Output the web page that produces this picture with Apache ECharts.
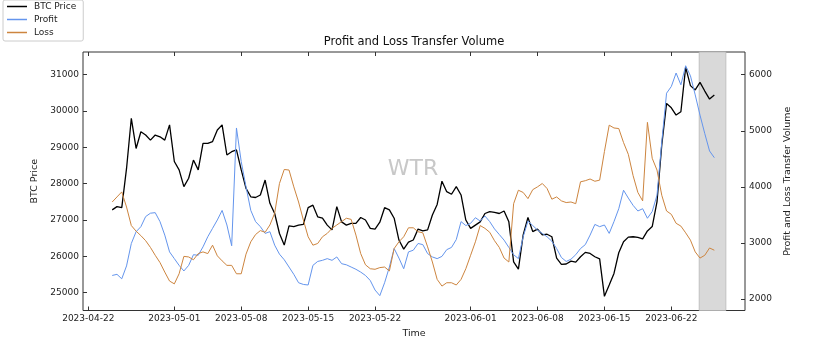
<!DOCTYPE html>
<html><head><meta charset="utf-8">
<script src="https://cdn.jsdelivr.net/npm/echarts@6/dist/echarts.min.js"></script>
<style>html,body{margin:0;padding:0;background:#fff}#c{width:828px;height:345px}</style>
</head><body><div id="c"></div>
<script>
const times = [
"2023-04-24 12:00",
"2023-04-25 00:00","2023-04-25 12:00","2023-04-26 00:00","2023-04-26 12:00","2023-04-27 00:00","2023-04-27 12:00",
"2023-04-28 00:00","2023-04-28 12:00","2023-04-29 00:00","2023-04-29 12:00","2023-04-30 00:00","2023-04-30 12:00",
"2023-05-01 00:00","2023-05-01 12:00","2023-05-02 00:00","2023-05-02 12:00","2023-05-03 00:00","2023-05-03 12:00",
"2023-05-04 00:00","2023-05-04 12:00","2023-05-05 00:00","2023-05-05 12:00","2023-05-06 00:00","2023-05-06 12:00",
"2023-05-07 00:00","2023-05-07 12:00","2023-05-08 00:00","2023-05-08 12:00","2023-05-09 00:00","2023-05-09 12:00",
"2023-05-10 00:00","2023-05-10 12:00","2023-05-11 00:00","2023-05-11 12:00","2023-05-12 00:00","2023-05-12 12:00",
"2023-05-13 00:00","2023-05-13 12:00","2023-05-14 00:00","2023-05-14 12:00","2023-05-15 00:00","2023-05-15 12:00",
"2023-05-16 00:00","2023-05-16 12:00","2023-05-17 00:00","2023-05-17 12:00","2023-05-18 00:00","2023-05-18 12:00",
"2023-05-19 00:00","2023-05-19 12:00","2023-05-20 00:00","2023-05-20 12:00","2023-05-21 00:00","2023-05-21 12:00",
"2023-05-22 00:00","2023-05-22 12:00","2023-05-23 00:00","2023-05-23 12:00","2023-05-24 00:00","2023-05-24 12:00",
"2023-05-25 00:00","2023-05-25 12:00","2023-05-26 00:00","2023-05-26 12:00","2023-05-27 00:00","2023-05-27 12:00",
"2023-05-28 00:00","2023-05-28 12:00","2023-05-29 00:00","2023-05-29 12:00","2023-05-30 00:00","2023-05-30 12:00",
"2023-05-31 00:00","2023-05-31 12:00",
"2023-06-01 00:00","2023-06-01 12:00","2023-06-02 00:00","2023-06-02 12:00","2023-06-03 00:00","2023-06-03 12:00",
"2023-06-04 00:00","2023-06-04 12:00","2023-06-05 00:00","2023-06-05 12:00","2023-06-06 00:00","2023-06-06 12:00",
"2023-06-07 00:00","2023-06-07 12:00","2023-06-08 00:00","2023-06-08 12:00","2023-06-09 00:00","2023-06-09 12:00",
"2023-06-10 00:00","2023-06-10 12:00","2023-06-11 00:00","2023-06-11 12:00","2023-06-12 00:00","2023-06-12 12:00",
"2023-06-13 00:00","2023-06-13 12:00","2023-06-14 00:00","2023-06-14 12:00","2023-06-15 00:00","2023-06-15 12:00",
"2023-06-16 00:00","2023-06-16 12:00","2023-06-17 00:00","2023-06-17 12:00","2023-06-18 00:00","2023-06-18 12:00",
"2023-06-19 00:00","2023-06-19 12:00","2023-06-20 00:00","2023-06-20 12:00","2023-06-21 00:00","2023-06-21 12:00",
"2023-06-22 00:00","2023-06-22 12:00","2023-06-23 00:00","2023-06-23 12:00","2023-06-24 00:00","2023-06-24 12:00",
"2023-06-25 00:00","2023-06-25 12:00","2023-06-26 00:00","2023-06-26 12:00"
];
const btcPrice = [
27280,27370,27340,28420,29800,28970,29430,29340,29200,29340,
29290,29200,29620,28610,28380,27920,28150,28650,28380,29110,
29110,29160,29480,29620,28790,28880,28930,28380,27870,27640,
27620,27690,28100,27460,27180,26630,26310,26840,26820,26860,
26880,27340,27410,27090,27050,26860,26730,27370,26950,26860,
26910,26910,27070,27000,26770,26750,26940,27340,27280,27050,
26450,26200,26390,26450,26750,26700,26730,27140,27430,28070,
27780,27710,27920,27690,27000,26770,26860,26950,27180,27230,
27210,27180,27250,26950,25850,25650,26590,27070,26680,26750,
26590,26610,26540,25950,25780,25790,25870,25840,25990,26110,
26080,25990,25930,24900,25210,25530,26100,26400,26530,26540,
26520,26480,26700,26820,27500,29070,30210,30090,29890,29980,
31200,30700,30580,30790,30550,30330,30440
];
const profit = [
2420,2440,2360,2590,2990,3200,3290,3470,3530,3540,
3380,3140,2840,2720,2600,2500,2600,2790,2780,2930,
3110,3260,3410,3580,3320,2950,5050,4450,4000,3580,
3380,3290,3170,3200,2960,2800,2700,2570,2440,2290,
2260,2250,2600,2670,2690,2720,2690,2750,2630,2610,
2570,2530,2480,2420,2330,2160,2060,2290,2570,2900,
2730,2540,2840,2870,2990,2970,2810,2750,2720,2760,
2880,2920,3060,3380,3310,3350,3450,3390,3480,3380,
3250,3150,3050,2920,2790,2720,3110,3390,3310,3230,
3170,3110,3030,2900,2740,2670,2710,2790,2900,2970,
3140,3330,3290,3320,3170,3380,3610,3940,3800,3670,
3570,3610,3440,3560,3850,4800,5670,5790,6030,5820,
6160,5980,5640,5280,4950,4640,4520
];
const loss = [
3730,3820,3910,3640,3310,3210,3130,3040,2920,2780,
2650,2480,2320,2270,2450,2760,2750,2700,2810,2840,
2810,2960,2770,2680,2600,2600,2450,2450,2800,3020,
3150,3220,3190,3320,3530,4060,4310,4300,4000,3730,
3410,3110,2960,2990,3110,3170,3260,3320,3380,3440,
3420,3140,2810,2610,2540,2530,2560,2570,2500,2900,
3020,3110,3270,3270,3200,3180,2930,2660,2350,2230,
2290,2290,2250,2350,2540,2780,3020,3310,3260,3190,
3040,2920,2730,2660,3700,3940,3900,3790,3950,4000,
4060,3970,3780,3820,3750,3720,3730,3700,4090,4110,
4140,4100,4120,4630,5100,5050,5040,4790,4580,4200,
3900,3750,5150,4510,4300,3850,3570,3510,3350,3300,
3180,3050,2840,2730,2780,2910,2870
];
const xTickLabels = ['2023-04-22','2023-05-01','2023-05-08','2023-05-15','2023-05-22','2023-06-01','2023-06-08','2023-06-15','2023-06-22'];
const leftTicks = [25000,26000,27000,28000,29000,30000,31000];
const rightTicks = [2000,3000,4000,5000,6000];
const shadeRange = ['2023-06-24 22:00','2023-06-27 17:00'];
const xRange = ['2023-04-21 10:40','2023-06-29 17:00'];

function ts(s){
  const [d,t] = s.split(' ');
  const [y,m,dd] = d.split('-').map(Number);
  let hh=0, mm=0;
  if (t) { [hh,mm] = t.split(':').map(Number); }
  return new Date(y, m-1, dd, hh, mm).getTime();
}
function fmtDate(v){
  const d = new Date(v); const p = n => String(n).padStart(2,'0');
  return d.getFullYear()+'-'+p(d.getMonth()+1)+'-'+p(d.getDate());
}
const plain = v => String(Math.round(v));
const FONT = 'DejaVu Sans';
const xTickValues = xTickLabels.map(ts);
const tsTimes = times.map(ts);
const xMin = ts(xRange[0]), xMax = ts(xRange[1]);
const axisCol = '#333', labCol = '#222';

const chart = echarts.init(document.getElementById('c'), null, {renderer:'canvas'});
chart.setOption({
  animation:false,
  backgroundColor:'#fff',
  textStyle:{fontFamily:FONT},
  title:{text:'Profit and Loss Transfer Volume', left:'center', top:36, padding:0,
    textStyle:{fontSize:11.5, fontWeight:'normal', color:'#111', fontFamily:FONT}},
  legend:{orient:'vertical', left:3, top:0, padding:[2,7,4,4], itemGap:4, itemWidth:20, itemHeight:1.5,
    icon:'rect', borderColor:'#cccccc', borderWidth:1, borderRadius:2, backgroundColor:'#fff',
    textStyle:{fontSize:9, color:labCol, fontFamily:FONT, padding:[0,0,0,2]},
    data:['BTC Price','Profit','Loss']},
  grid:{left:83, right:83, top:52, bottom:34.5, show:true, borderColor:axisCol, borderWidth:1, backgroundColor:'transparent'},
  graphic:[{type:'text', x:413, y:169.5, z:1, silent:true,
    style:{text:'WTR', fontSize:22, fontFamily:FONT, fill:'#c8c8c8', textAlign:'center', textVerticalAlign:'middle'}}],
  xAxis:[
    {type:'value', min:xMin, max:xMax, name:'Time', nameLocation:'middle', nameGap:17,
     nameTextStyle:{fontSize:9.5, color:labCol, fontFamily:FONT},
     axisLine:{show:false},
     axisTick:{show:true, inside:true, length:4, customValues:xTickValues, lineStyle:{color:axisCol}},
     axisLabel:{customValues:xTickValues, formatter:fmtDate, fontSize:9, color:labCol, margin:4, fontFamily:FONT},
     splitLine:{show:false}},
    {type:'value', position:'top', min:xMin, max:xMax,
     axisLine:{show:false},
     axisTick:{show:true, inside:true, length:4, customValues:xTickValues, lineStyle:{color:axisCol}},
     axisLabel:{show:false}, splitLine:{show:false}}
  ],
  yAxis:[
    {type:'value', position:'left', min:24510, max:31625, name:'BTC Price', nameLocation:'middle', nameRotate:90, nameGap:31,
     nameTextStyle:{fontSize:9.5, color:labCol, fontFamily:FONT},
     axisLine:{show:false},
     axisTick:{show:true, inside:true, length:4, customValues:leftTicks, lineStyle:{color:axisCol}},
     axisLabel:{customValues:leftTicks, formatter:plain, fontSize:9, color:labCol, margin:4, fontFamily:FONT},
     splitLine:{show:false}},
    {type:'value', position:'right', min:1795, max:6405, name:'Profit and Loss Transfer Volume', nameLocation:'middle', nameRotate:90, nameGap:24,
     nameTextStyle:{fontSize:9.5, color:labCol, fontFamily:FONT},
     axisLine:{show:false},
     axisTick:{show:true, inside:true, length:4, customValues:rightTicks, lineStyle:{color:axisCol}},
     axisLabel:{customValues:rightTicks, formatter:plain, fontSize:9, color:labCol, margin:4, fontFamily:FONT},
     splitLine:{show:false}}
  ],
  series:[
    {name:'shade', type:'line', xAxisIndex:0, yAxisIndex:0, data:[], z:1, silent:true,
     markArea:{silent:true, itemStyle:{color:'#d9d9d9', borderColor:'#b8b8b8', borderWidth:0.8},
       data:[[{xAxis:ts(shadeRange[0])},{xAxis:ts(shadeRange[1])}]]}},
    {name:'BTC Price', type:'line', xAxisIndex:0, yAxisIndex:0, showSymbol:false, z:3,
     lineStyle:{color:'#000', width:1.3}, itemStyle:{color:'#000'},
     data:tsTimes.map((t,i)=>[t, btcPrice[i]])},
    {name:'Profit', type:'line', xAxisIndex:0, yAxisIndex:1, showSymbol:false, z:4,
     lineStyle:{color:'#6495ED', width:1}, itemStyle:{color:'#6495ED'},
     data:tsTimes.map((t,i)=>[t, profit[i]])},
    {name:'Loss', type:'line', xAxisIndex:0, yAxisIndex:1, showSymbol:false, z:4,
     lineStyle:{color:'#CD853F', width:1}, itemStyle:{color:'#CD853F'},
     data:tsTimes.map((t,i)=>[t, loss[i]])}
  ]
});
</script>
</body></html>
